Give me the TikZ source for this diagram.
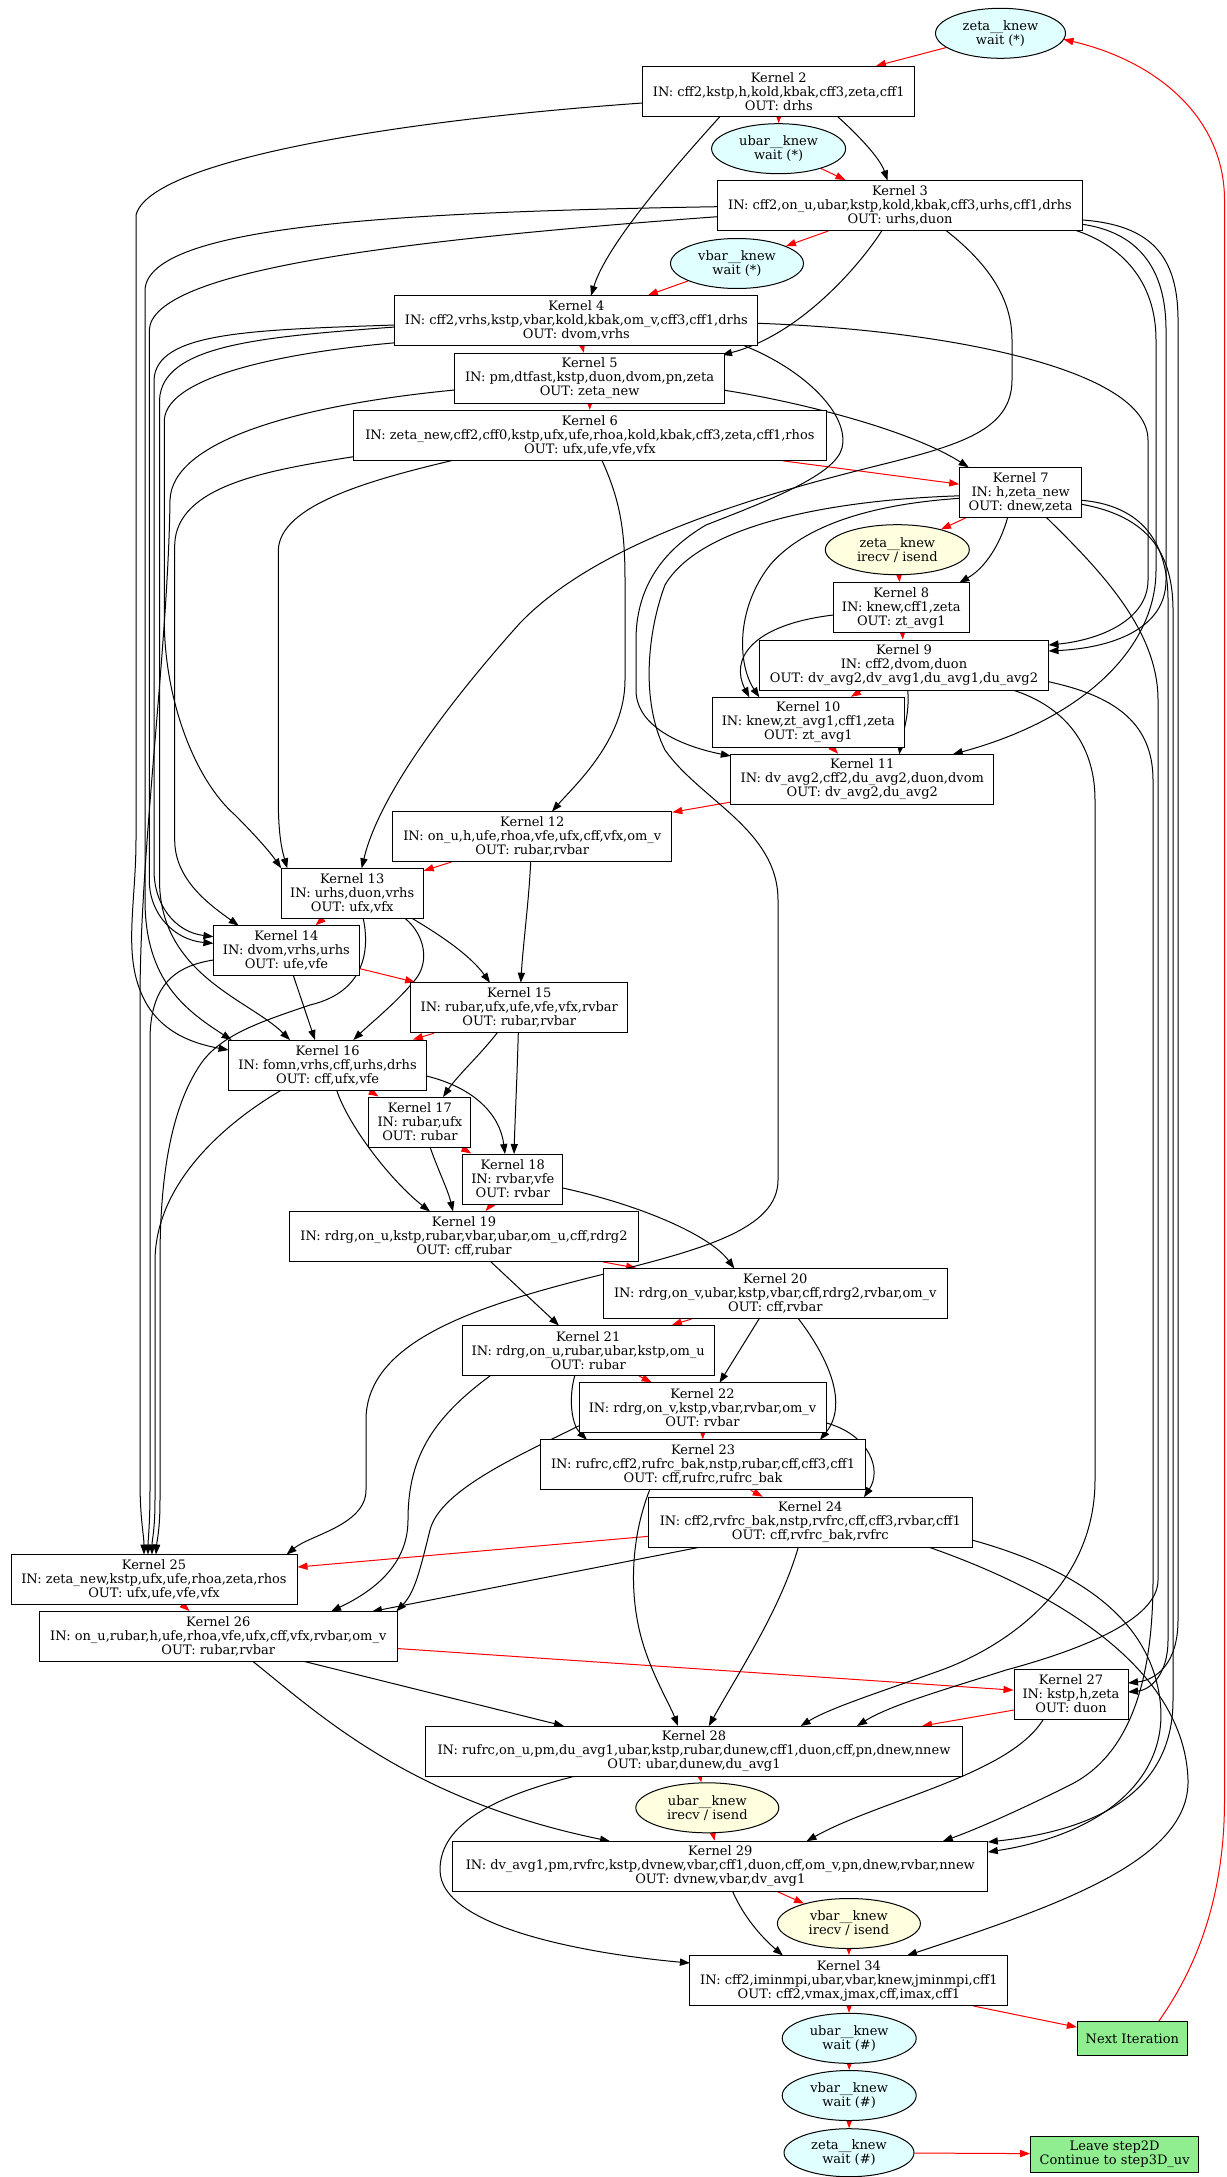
\documentclass[tikz,border=0pt]{standalone}
\usepackage{fontspec}
\setmainfont{DejaVu Serif}
\usetikzlibrary{shapes.geometric,arrows.meta,calc}
\pgfdeclarelayer{bg}
\pgfdeclarelayer{edges}
\pgfsetlayers{bg,edges,main}
\definecolor{lcyan}{HTML}{E0FFFF}
\definecolor{lyellow}{HTML}{FFFFE0}
\definecolor{lgreen}{HTML}{90EE90}
\tikzset{
  nfont/.style={font=\fontsize{6.5}{7}\selectfont},
  kbox/.style={rectangle, draw, line width=0.5pt, fill=white, minimum height=25pt, inner xsep=1.5pt, inner ysep=0pt, align=center, nfont},
  cyanell/.style={ellipse, draw, line width=0.5pt, fill=lcyan, minimum height=25pt, inner sep=0pt, align=center, nfont},
  yelell/.style={ellipse, draw, line width=0.5pt, fill=lyellow, minimum height=25pt, inner sep=0pt, align=center, nfont},
  gbox/.style={rectangle, draw, line width=0.5pt, fill=lgreen, inner xsep=1pt, inner ysep=0pt, align=center, nfont},
  blk/.style={draw=black, line width=0.5pt, -{Triangle[length=5pt,width=3.6pt]}},
  rarr/.style={red, line width=0.5pt, -{Triangle[length=5pt,width=3.6pt]}}
}
\begin{document}
\begin{tikzpicture}[x=0.5pt,y=-0.5pt]
\begin{pgfonlayer}{bg}
\fill[white] (0,0) rectangle (1226,2177);
\end{pgfonlayer}
\useasboundingbox (0,0) rectangle (1226,2177);

% ---------- nodes ----------
\node[cyanell, minimum width=65pt] (zw1) at (1000.5,33.3) {zeta\_\_knew\\wait (*)};
\node[kbox, minimum width=136pt] (K2) at (778.8,91.5) {Kernel 2\\IN: cff2,kstp,h,kold,kbak,cff3,zeta,cff1\\OUT: drhs};
\node[cyanell, minimum width=67pt] (uw1) at (778.6,148.7) {ubar\_\_knew\\wait (*)};
\node[kbox, minimum width=182.5pt] (K3) at (900,205.5) {Kernel 3\\IN: cff2,on\_u,ubar,kstp,kold,kbak,cff3,urhs,cff1,drhs\\OUT: urhs,duon};
\node[cyanell, minimum width=66.5pt] (vw1) at (737,263.5) {vbar\_\_knew\\wait (*)};
\node[kbox, minimum width=181.5pt] (K4) at (576.4,320.8) {Kernel 4\\IN: cff2,vrhs,kstp,vbar,kold,kbak,om\_v,cff3,cff1,drhs\\OUT: dvom,vrhs};
\node[kbox, minimum width=135pt] (K5) at (589.6,378.3) {Kernel 5\\IN: pm,dtfast,kstp,duon,dvom,pn,zeta\\OUT: zeta\_new};
\node[kbox, minimum width=236.5pt] (K6) at (589.9,435.3) {Kernel 6\\IN: zeta\_new,cff2,cff0,kstp,ufx,ufe,rhoa,kold,kbak,cff3,zeta,cff1,rhos\\OUT: ufx,ufe,vfe,vfx};
\node[kbox, minimum width=61pt] (K7) at (1020.7,492.3) {Kernel 7\\IN: h,zeta\_new\\OUT: dnew,zeta};
\node[yelell, minimum width=72pt] (zi) at (897.3,549.7) {zeta\_\_knew\\irecv / isend};
\node[kbox, minimum width=68pt] (K8) at (901.3,607.7) {Kernel 8\\IN: knew,cff1,zeta\\OUT: zt\_avg1};
\node[kbox, minimum width=144.5pt] (K9) at (904,665) {Kernel 9\\IN: cff2,dvom,duon\\OUT: dv\_avg2,dv\_avg1,du\_avg1,du\_avg2};
\node[kbox, minimum width=96pt] (K10) at (808.3,722.3) {Kernel 10\\IN: knew,zt\_avg1,cff1,zeta\\OUT: zt\_avg1};
\node[kbox, minimum width=131.5pt] (K11) at (862.3,779.3) {Kernel 11\\IN: dv\_avg2,cff2,du\_avg2,duon,dvom\\OUT: dv\_avg2,du\_avg2};
\node[kbox, minimum width=139.5pt] (K12) at (532.3,836.5) {Kernel 12\\IN: on\_u,h,ufe,rhoa,vfe,ufx,cff,vfx,om\_v\\OUT: rubar,rvbar};
\node[kbox, minimum width=71pt] (K13) at (352.2,893.3) {Kernel 13\\IN: urhs,duon,vrhs\\OUT: ufx,vfx};
\node[kbox, minimum width=73pt] (K14) at (286.4,950.7) {Kernel 14\\IN: dvom,vrhs,urhs\\OUT: ufe,vfe};
\node[kbox, minimum width=108.5pt] (K15) at (519.3,1007.7) {Kernel 15\\IN: rubar,ufx,ufe,vfe,vfx,rvbar\\OUT: rubar,rvbar};
\node[kbox, minimum width=99pt] (K16) at (327.6,1065) {Kernel 16\\IN: fomn,vrhs,cff,urhs,drhs\\OUT: cff,ufx,vfe};
\node[kbox, minimum width=51pt] (K17) at (419.9,1122) {Kernel 17\\IN: rubar,ufx\\OUT: rubar};
\node[kbox, minimum width=50pt] (K18) at (512.8,1179) {Kernel 18\\IN: rvbar,vfe\\OUT: rvbar};
\node[kbox, minimum width=174.5pt] (K19) at (464,1236.5) {Kernel 19\\IN: rdrg,on\_u,kstp,rubar,vbar,ubar,om\_u,cff,rdrg2\\OUT: cff,rubar};
\node[kbox, minimum width=171.75pt] (K20) at (775.3,1293.5) {Kernel 20\\IN: rdrg,on\_v,ubar,kstp,vbar,cff,rdrg2,rvbar,om\_v\\OUT: cff,rvbar};
\node[kbox, minimum width=126pt] (K21) at (588.2,1350.5) {Kernel 21\\IN: rdrg,on\_u,rubar,ubar,kstp,om\_u\\OUT: rubar};
\node[kbox, minimum width=123.5pt] (K22) at (702.5,1407.8) {Kernel 22\\IN: rdrg,on\_v,kstp,vbar,rvbar,om\_v\\OUT: rvbar};
\node[kbox, minimum width=162.5pt] (K23) at (703.1,1464.8) {Kernel 23\\IN: rufrc,cff2,rufrc\_bak,nstp,rubar,cff,cff3,cff1\\OUT: cff,rufrc,rufrc\_bak};
\node[kbox, minimum width=161.75pt] (K24) at (810.3,1522.2) {Kernel 24\\IN: cff2,rvfrc\_bak,nstp,rvfrc,cff,cff3,rvbar,cff1\\OUT: cff,rvfrc\_bak,rvfrc};
\node[kbox, minimum width=143pt] (K25) at (154,1579.5) {Kernel 25\\IN: zeta\_new,kstp,ufx,ufe,rhoa,zeta,rhos\\OUT: ufx,ufe,vfe,vfx};
\node[kbox, minimum width=179pt] (K26) at (218.3,1636.5) {Kernel 26\\IN: on\_u,rubar,h,ufe,rhoa,vfe,ufx,cff,vfx,rvbar,om\_v\\OUT: rubar,rvbar};
\node[kbox, minimum width=57pt] (K27) at (1071,1694) {Kernel 27\\IN: kstp,h,zeta\\OUT: duon};
\node[kbox, minimum width=268.5pt] (K28) at (694,1751) {Kernel 28\\IN: rufrc,on\_u,pm,du\_avg1,ubar,kstp,rubar,dunew,cff1,duon,cff,pn,dnew,nnew\\OUT: ubar,dunew,du\_avg1};
\node[yelell, minimum width=71.5pt] (ui) at (707.3,1807.8) {ubar\_\_knew\\irecv / isend};
\node[kbox, minimum width=267.5pt] (K29) at (720.3,1866.2) {Kernel 29\\IN: dv\_avg1,pm,rvfrc,kstp,dvnew,vbar,cff1,duon,cff,om\_v,pn,dnew,rvbar,nnew\\OUT: dvnew,vbar,dv\_avg1};
\node[yelell, minimum width=71.5pt] (vi) at (848.9,1923.5) {vbar\_\_knew\\irecv / isend};
\node[kbox, minimum width=159pt] (K34) at (848.9,1980.5) {Kernel 34\\IN: cff2,iminmpi,ubar,vbar,knew,jminmpi,cff1\\OUT: cff2,vmax,jmax,cff,imax,cff1};
\node[cyanell, minimum width=67pt] (uw2) at (849.2,2038.3) {ubar\_\_knew\\wait (\#)};
\node[cyanell, minimum width=67pt] (vw2) at (849.2,2095.5) {vbar\_\_knew\\wait (\#)};
\node[cyanell, minimum width=65pt, minimum height=24pt] (zw2) at (849,2152.7) {zeta\_\_knew\\wait (\#)};
\node[gbox, minimum width=55pt, minimum height=17pt] (NI) at (1132.4,2038.5) {Next Iteration};
\node[gbox, minimum width=84pt, minimum height=18pt] (LV) at (1114.6,2154) {Leave step2D\\Continue to step3D\_uv};

\begin{pgfonlayer}{edges}
% ---------- red sequence ----------
\draw[rarr] (zw1) -- (K2);
\draw[rarr] (K2) -- (uw1);
\draw[rarr] (uw1) -- (K3);
\draw[rarr] (K3) -- (vw1);
\draw[rarr] (vw1) -- (K4);
\draw[rarr] (K4) -- (K5);
\draw[rarr] (K5) -- (K6);
\draw[rarr] (K6) -- (K7);
\draw[rarr] (K7) -- (zi);
\draw[rarr] (zi) -- (K8);
\draw[rarr] (K8) -- (K9);
\draw[rarr] (K9) -- (K10);
\draw[rarr] (K10) -- (K11);
\draw[rarr] (K11) -- (K12);
\draw[rarr] (K12) -- (K13);
\draw[rarr] (K13) -- (K14);
\draw[rarr] (K14) -- (K15);
\draw[rarr] (K15) -- (K16);
\draw[rarr] (K16) -- (K17);
\draw[rarr] (K17) -- (K18);
\draw[rarr] (K18) -- (K19);
\draw[rarr] (K19) -- (K20);
\draw[rarr] (K20) -- (K21);
\draw[rarr] (K21) -- (K22);
\draw[rarr] (K22) -- (K23);
\draw[rarr] (K23) -- (K24);
\draw[rarr] (K24) -- (K25);
\draw[rarr] (K25) -- (K26);
\draw[rarr] (K26) -- (K27);
\draw[rarr] ($(K27)+(-57,16)$) -- ($(K28)+(228,-25)$);
\draw[rarr] (K28) -- (ui);
\draw[rarr] (ui) -- (K29);
\draw[rarr] (K29) -- (vi);
\draw[rarr] (vi) -- (K34);
\draw[rarr] (K34) -- (uw2);
\draw[rarr] (uw2) -- (vw2);
\draw[rarr] (vw2) -- (zw2);
\draw[rarr] (zw2) -- (LV);
\draw[rarr] (K34) -- (NI);
\draw[rarr] ($(NI)+(26,-16.8)$) .. controls (1195,1970) and (1224.5,1900) .. (1224.5,1800) -- (1224.5,200) .. controls (1224.5,120) and (1160,62) .. ($(zw1)+(63,6)$);

% ---------- black dependencies ----------
% K2
\draw[blk] ($(K2)+(58.7,25)$) .. controls (858,135) and (880,158) .. ($(K3)+(-12.5,-25)$);
\draw[blk] ($(K2)+(-58.8,25)$) .. controls (690,150) and (608,240) .. ($(K4)+(14.6,-25)$);
\draw[blk] ($(K2)+(-136,11.5)$) .. controls (400,120) and (150,160) .. (136,215) -- (136,840) .. controls (136,900) and (124,950) .. (140,990) .. controls (155,1030) and (190,1043) .. ($(K16)+(-99,-15)$);
% K3
\draw[blk] ($(K3)+(-18,25)$) .. controls (860,265) and (800,335) .. ($(K5)+(132.4,-23.3)$);
\draw[blk] ($(K3)+(182.5,18.8)$) .. controls (1135,232) and (1166,265) .. (1166,330) -- (1166,580) .. controls (1166,630) and (1110,648) .. ($(K9)+(144.5,-14)$);
\draw[blk] ($(K3)+(176,25)$) .. controls (1120,245) and (1156,280) .. (1156,340) -- (1156,570) .. controls (1156,650) and (1080,720) .. ($(K11)+(90.4,-25)$);
\draw[blk] ($(K3)+(46,25)$) .. controls (990,265) and (1012,300) .. (1012,340) -- (1012,380) .. controls (1012,430) and (960,445) .. (880,465) .. controls (760,495) and (600,540) .. (520,623) .. controls (460,690) and (380,790) .. ($(K13)+(9.5,-25)$);
\draw[blk] ($(K3)+(-182.5,11.2)$) .. controls (400,240) and (152,270) .. (149.3,330) -- (149.3,880) .. controls (149.3,915) and (175,940) .. ($(K14)+(-73,-7.4)$);
\draw[blk] ($(K3)+(-182.5,1.2)$) .. controls (400,212) and (148,225) .. (145,290) -- (145,900) .. controls (145,980) and (185,1010) .. ($(K16)+(-96,-25)$);
\draw[blk] ($(K3)+(182.5,14.5)$) .. controls (1150,225) and (1178,255) .. (1178,320) -- (1178,1620) .. controls (1178,1665) and (1155,1680) .. ($(K27)+(57,-11)$);
% K4
\draw[blk] ($(K4)+(181.5,2.5)$) .. controls (950,330) and (1148,370) .. (1148,440) -- (1148,580) .. controls (1148,620) and (1100,640) .. ($(K9)+(144.5,-20)$);
\draw[blk] ($(K4)+(168,25)$) .. controls (805,370) and (850,415) .. (842,448) .. controls (835,475) and (770,500) .. (706,525) .. controls (660,552) and (636,590) .. (636,640) -- (636,690) .. controls (636,730) and (690,748) .. ($(K11)+(-131.5,-23.3)$);
\draw[blk] ($(K4)+(-181.5,22)$) .. controls (290,352) and (167,375) .. (164.3,420) -- (164.3,620) .. controls (164.3,700) and (195,780) .. (235,815) .. controls (255,835) and (270,852) .. ($(K13)+(-71,-25)$);
\draw[blk] ($(K4)+(-181.5,4.2)$) .. controls (250,330) and (156,332) .. (154,380) -- (154,870) .. controls (154,905) and (175,932) .. ($(K14)+(-73,-14)$);
\draw[blk] ($(K4)+(-181.5,6.2)$) .. controls (260,337) and (162,345) .. (159.5,400) -- (159.5,880) .. controls (159.5,975) and (250,1000) .. ($(K16)+(-37.6,-25)$);
% K5
\draw[blk] ($(K5)+(135,12)$) .. controls (800,402) and (910,430) .. ($(K7)+(-52,-25)$);
\draw[blk] ($(K5)+(-135,11.7)$) .. controls (300,405) and (172,440) .. (170,500) .. controls (168,650) and (140,850) .. (140,1000) -- (140,1480) .. controls (140,1520) and (144,1535) .. ($(K25)+(-10,-25)$);
% K6
\draw[blk] ($(K6)+(12,25)$) .. controls (620,500) and (625,530) .. (625,580) -- (625,680) .. controls (625,740) and (575,785) .. ($(K12)+(19.7,-25)$);
\draw[blk] ($(K6)+(-136.9,25)$) .. controls (370,480) and (280,505) .. (278.3,550) -- (278.3,800) .. controls (278.3,835) and (282,850) .. ($(K13)+(-65,-25)$);
\draw[blk] ($(K6)+(-236.5,21.4)$) .. controls (270,470) and (176,485) .. (174.7,545) -- (174.7,840) .. controls (174.7,880) and (210,905) .. ($(K14)+(-47.7,-25)$);
% K7
\draw[blk] ($(K7)+(-13,25)$) .. controls (1000,545) and (985,568) .. ($(K8)+(58,-25)$);
\draw[blk] ($(K7)+(-61,6)$) .. controls (860,505) and (800,530) .. (770,565) .. controls (735,610) and (738,665) .. ($(K10)+(-49,-25)$);
\draw[blk] ($(K7)+(-61,3.5)$) .. controls (830,500) and (700,525) .. (665,585) .. controls (648,630) and (640,700) .. (665,750) .. controls (700,800) and (778,830) .. (778,900) -- (778,1180) .. controls (778,1230) and (700,1250) .. (600,1275) .. controls (480,1305) and (366,1340) .. (366,1420) -- (366,1490) .. controls (366,1525) and (310,1535) .. ($(K25)+(132.6,-25)$);
\draw[blk] ($(K7)+(61,8)$) .. controls (1135,505) and (1168,535) .. (1168,600) -- (1168,1640) .. controls (1168,1675) and (1150,1690) .. ($(K27)+(57,-2)$);
\draw[blk] ($(K7)+(25.5,25)$) .. controls (1100,570) and (1158,630) .. (1158,700) -- (1158,1580) .. controls (1158,1620) and (1080,1650) .. (1006,1670) .. controls (950,1688) and (890,1705) .. ($(K28)+(163,-25)$);
\draw[blk] ($(K7)+(61,12)$) .. controls (1140,515) and (1173,545) .. (1173,610) -- (1173,1700) .. controls (1173,1790) and (1100,1830) .. ($(K29)+(267.5,-24.2)$);
% K8
\draw[blk] ($(K8)+(-68,7.3)$) .. controls (750,625) and (730,660) .. ($(K10)+(-59,-25)$);
% K9
\draw[blk] ($(K9)+(3.7,25)$) .. controls (910,715) and (902,735) .. ($(K11)+(37,-25)$);
\draw[blk] ($(K9)+(108.7,25)$) .. controls (1060,705) and (1095,740) .. (1095,800) -- (1095,1480) .. controls (1095,1590) and (1000,1650) .. (936,1672) .. controls (880,1692) and (830,1708) .. ($(K28)+(106.6,-25)$);
\draw[blk] ($(K9)+(144.5,16.7)$) .. controls (1110,695) and (1153,720) .. (1153,780) -- (1153,1580) .. controls (1153,1700) and (1120,1760) .. (1070,1785) .. controls (1030,1805) and (980,1828) .. ($(K29)+(222.5,-25)$);
% K12, K13, K14
\draw[blk] ($(K12)+(-1.6,25)$) .. controls (529,900) and (523,945) .. ($(K15)+(1.5,-25)$);
\draw[blk] ($(K13)+(59.8,25)$) .. controls (440,935) and (470,955) .. ($(K15)+(-29.3,-25)$);
\draw[blk] ($(K13)+(52.8,25)$) .. controls (425,935) and (430,962) .. (415,980) .. controls (396,1003) and (372,1022) .. ($(K16)+(25.7,-25)$);
\draw[blk] ($(K13)+(11,25)$) .. controls (370,950) and (365,992) .. (310,1005) .. controls (260,1022) and (220,1035) .. (200,1065) .. controls (170,1110) and (160,1180) .. (160,1260) -- (160,1500) .. controls (160,1530) and (157,1540) .. ($(K25)+(2,-25)$);
\draw[blk] ($(K14)+(7,25)$) -- ($(K16)+(-12.6,-25)$);
\draw[blk] ($(K14)+(-73,9.3)$) .. controls (175,966) and (150,985) .. (150,1040) -- (150,1490) .. controls (150,1525) and (148,1540) .. ($(K25)+(-6,-25)$);
% K15 .. K18
\draw[blk] ($(K15)+(-22,25)$) .. controls (480,1055) and (458,1075) .. ($(K17)+(23.1,-25)$);
\draw[blk] ($(K15)+(-1,25)$) .. controls (517,1080) and (515,1120) .. ($(K18)+(1.2,-25)$);
\draw[blk] ($(K16)+(99,11)$) .. controls (475,1088) and (500,1115) .. ($(K18)+(-7.8,-25)$);
\draw[blk] ($(K16)+(9,25)$) .. controls (348,1125) and (390,1180) .. ($(K19)+(-34,-25)$);
\draw[blk] ($(K16)+(-46,25)$) .. controls (230,1120) and (156,1180) .. (155,1260) -- (155,1500) .. controls (155,1530) and (152,1540) .. ($(K25)+(-2,-25)$);
\draw[blk] ($(K17)+(10.1,25)$) .. controls (438,1170) and (448,1190) .. ($(K19)+(-11,-25)$);
\draw[blk] ($(K18)+(50,9)$) .. controls (640,1205) and (710,1235) .. ($(K20)+(-41,-25)$);
% K19 .. K22
\draw[blk] ($(K19)+(26.5,25)$) -- ($(K21)+(-29.2,-25)$);
\draw[blk] ($(K20)+(-16,25)$) -- ($(K22)+(17,-25)$);
\draw[blk] ($(K20)+(23,25)$) .. controls (830,1360) and (848,1405) .. ($(K23)+(116.9,-25)$);
\draw[blk] ($(K21)+(-13.4,25)$) .. controls (568,1400) and (572,1425) .. ($(K23)+(-116.1,-25)$);
\draw[blk] ($(K21)+(-97.7,25)$) .. controls (430,1420) and (408,1460) .. (408,1520) .. controls (408,1570) and (365,1595) .. ($(K26)+(112.7,-25)$);
\draw[blk] ($(K22)+(123.5,15)$) .. controls (870,1435) and (882,1470) .. ($(K24)+(53.7,-25)$);
\draw[blk] ($(K22)+(-123.5,18)$) .. controls (520,1455) and (440,1490) .. (430,1530) .. controls (420,1570) and (415,1592) .. ($(K26)+(178,-25)$);
% K23, K24
\draw[blk] ($(K23)+(-53.4,25)$) .. controls (630,1540) and (628,1600) .. (645,1650) .. controls (655,1680) and (670,1705) .. ($(K28)+(-16,-25)$);
\draw[blk] ($(K24)+(-110.6,25)$) -- ($(K26)+(153.7,-25)$);
\draw[blk] ($(K24)+(-12,25)$) .. controls (780,1610) and (740,1670) .. ($(K28)+(14.8,-25)$);
\draw[blk] ($(K24)+(161.75,17.8)$) .. controls (1080,1570) and (1150,1620) .. (1160,1700) .. controls (1170,1780) and (1100,1835) .. ($(K29)+(267.5,-14.2)$);
\draw[blk] ($(K24)+(118.7,25)$) .. controls (1080,1600) and (1185,1680) .. (1188,1780) .. controls (1190,1860) and (1060,1905) .. ($(K34)+(58.1,-25)$);
% K26 .. K29
\draw[blk] ($(K26)+(86.2,25)$) -- ($(K28)+(-130,-25)$);
\draw[blk] ($(K26)+(34.7,25)$) .. controls (320,1715) and (410,1800) .. ($(K29)+(-110.3,-25)$);
\draw[blk] ($(K27)+(-27.5,25)$) .. controls (1010,1775) and (880,1800) .. ($(K29)+(86.2,-25)$);
\draw[blk] ($(K28)+(-118.5,25)$) .. controls (480,1800) and (440,1830) .. (440,1870) .. controls (440,1930) and (600,1955) .. ($(K34)+(-159,-17.5)$);
\draw[blk] ($(K29)+(12.2,25)$) .. controls (745,1920) and (765,1940) .. ($(K34)+(-66,-25)$);
\end{pgfonlayer}
\end{tikzpicture}
\end{document}
